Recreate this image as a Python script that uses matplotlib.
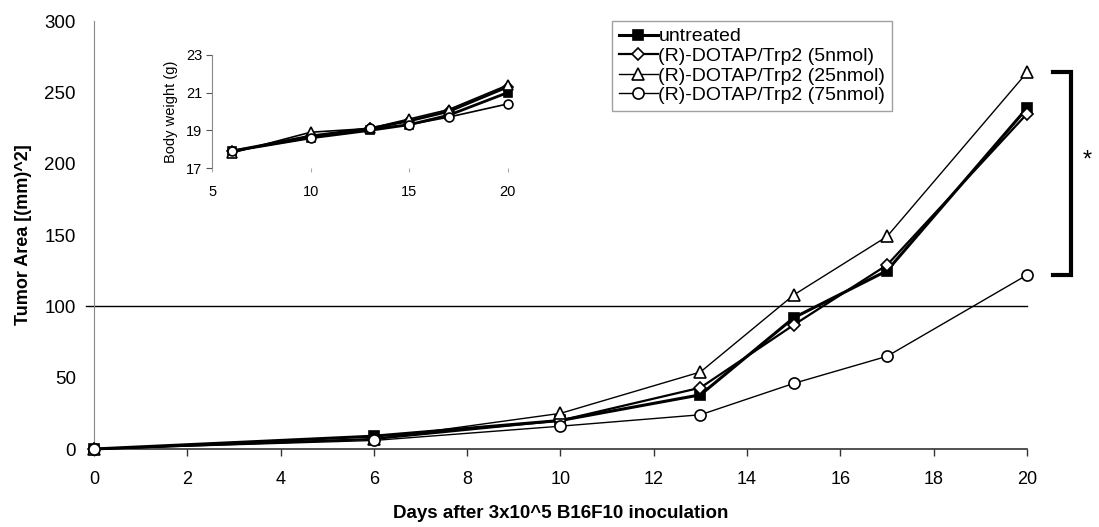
import matplotlib
matplotlib.use("Agg")
import matplotlib.pyplot as plt

plt.rcParams['font.family'] = ['Liberation Sans', 'DejaVu Sans']

# tumor area data
days = [0, 6, 10, 13, 15, 17, 20]
untreated = [0, 9, 20, 38, 92, 125, 239]
nmol5 = [0, 7, 20, 43, 87, 129, 235]
nmol25 = [0, 7, 25, 54, 108, 149, 264]
nmol75 = [0, 6, 16, 24, 46, 65, 122]

# body weight data (inset)
bw_days = [6, 10, 13, 15, 17, 20]
bw_untreated = [17.9, 18.6, 19.0, 19.3, 19.8, 21.0]
bw_5 = [17.9, 18.7, 19.1, 19.5, 20.0, 21.3]
bw_25 = [17.8, 18.9, 19.1, 19.6, 20.1, 21.4]
bw_75 = [17.9, 18.6, 19.1, 19.3, 19.7, 20.4]

labels = ['untreated', '(R)-DOTAP/Trp2 (5nmol)',
          '(R)-DOTAP/Trp2 (25nmol)', '(R)-DOTAP/Trp2 (75nmol)']
xticks = list(range(0, 21, 2))
yticks = list(range(0, 301, 50))

styles = [
    dict(marker='s', mfc='black', mec='black', lw=2.2, ms=7),
    dict(marker='D', mfc='white', mec='black', lw=1.6, ms=6),
    dict(marker='^', mfc='white', mec='black', lw=1.0, ms=9),
    dict(marker='o', mfc='white', mec='black', lw=1.0, ms=8),
]

fig = plt.figure(figsize=(10.99, 5.27), dpi=100)
ax = fig.add_axes([0.0855, 0.148, 0.849, 0.812])

series = [untreated, nmol5, nmol25, nmol75]
order = [3, 2, 1, 0]
handles = [None] * 4
for i in order:
    h, = ax.plot(days, series[i], color='black', label=labels[i],
                 mew=1.2, zorder=3 + i, clip_on=False, **styles[i])
    handles[i] = h

# 100 mm^2 reference line, poking a bit past the y axis
ax.plot([-0.17, 20], [100, 100], color='black', lw=1, zorder=2, clip_on=False)

ax.set_xlim(0, 20)
ax.set_ylim(0, 300)
ax.set_xticks(xticks)
ax.set_yticks(yticks)
ax.tick_params(axis='x', direction='out', length=5, width=1, labelsize=13, pad=11, color='#333333')
ax.tick_params(axis='y', length=0, labelsize=13.5, pad=13)
ax.spines['top'].set_visible(False)
ax.spines['right'].set_visible(False)
ax.spines['left'].set_color('#888888')
ax.spines['bottom'].set_color('#333333')
ax.spines['bottom'].set_linewidth(1.2)
ax.set_xlabel('Days after 3x10^5 B16F10 inoculation', fontsize=13.5, fontweight='bold', labelpad=12)
ax.set_ylabel('Tumor Area [(mm)^2]', fontsize=13, fontweight='bold', labelpad=9)

leg = ax.legend(handles=handles, loc='upper left', bbox_to_anchor=(0.555, 1.0),
                frameon=True, fancybox=False, fontsize=14, handlelength=2.0,
                handletextpad=0.05, labelspacing=0.1, borderpad=0.35, borderaxespad=0)
leg.get_frame().set_edgecolor('#888888')
leg.get_frame().set_linewidth(1)

# significance bracket
ax.plot([20.55, 20.95, 20.95, 20.55], [264, 264, 122, 122], color='black',
        lw=3, clip_on=False, solid_joinstyle='miter')
ax.text(21.3, 202, '*', fontsize=17, ha='center', va='center')

# inset body weight
ins = fig.add_axes([0.193, 0.681, 0.269, 0.215])
bw_series = [bw_untreated, bw_5, bw_25, bw_75]
for i in order:
    st = dict(styles[i])
    st['ms'] = st['ms'] * 0.8
    st['lw'] = 2.0 if i < 2 else 1.2
    ins.plot(bw_days, bw_series[i], color='black', mew=1.2, zorder=3 + i,
             clip_on=False, **st)
ins.set_xlim(5, 20)
ins.set_ylim(17, 23)
ins.set_xticks([5, 10, 15, 20])
ins.set_yticks([17, 19, 21, 23])
ins.patch.set_alpha(0)
ins.spines['top'].set_visible(False)
ins.spines['right'].set_visible(False)
ins.spines['bottom'].set_visible(False)
ins.spines['left'].set_color('#888888')
ins.tick_params(axis='x', direction='out', length=3, color='#aaaaaa', labelsize=10.5, pad=9)
ins.tick_params(axis='y', direction='out', length=4, color='#555555', labelsize=10.5, pad=3)
ins.set_ylabel('Body weight (g)', fontsize=10.5, labelpad=6)

fig.savefig('out.png', dpi=100)
